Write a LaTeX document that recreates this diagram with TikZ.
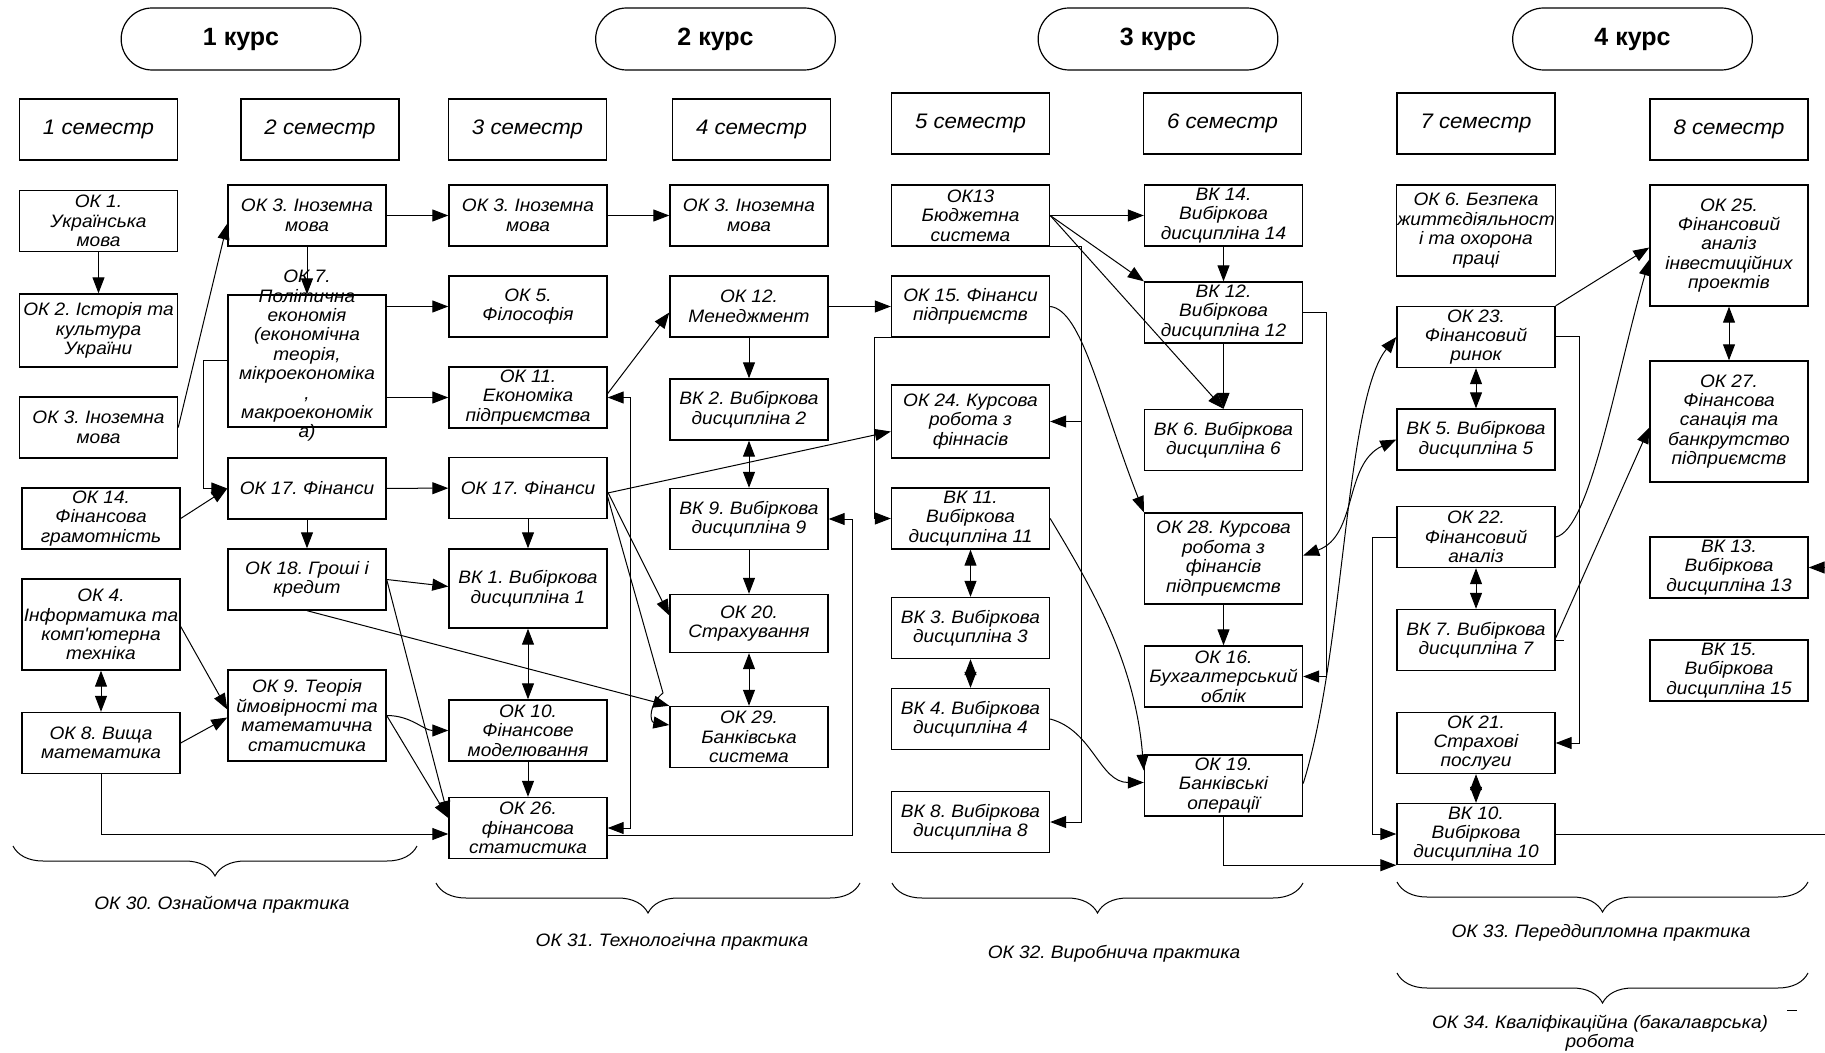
\documentclass[tikz,border=0pt]{standalone}
\usepackage{fontspec}
\setmainfont{Liberation Sans}
\newfontfamily\boxfam[FakeStretch=1.06]{Liberation Sans}
\usepackage{tikz}
\usetikzlibrary{shapes.misc}
\usetikzlibrary{arrows.meta}
\usetikzlibrary{calc,decorations.pathreplacing}
\frenchspacing
\newcommand{\boxfont}{\boxfam\itshape\fontsize{9}{9.7}\selectfont}
\newcommand{\semfont}{\boxfam\itshape\fontsize{10.5}{12}\selectfont}
\newcommand{\kursfont}{\bfseries\fontsize{12.5}{14}\selectfont}

\begin{document}
\begin{tikzpicture}[x=0.5pt,y=-0.5pt,
    box/.style={draw,line width=0.7pt,minimum width=79pt,minimum height=30.5pt,inner sep=0.5pt,align=center,font=\boxfont},
    sem/.style={draw,line width=0.7pt,minimum width=79pt,minimum height=30.5pt,font=\semfont},
    kurs/.style={draw,line width=0.6pt,rounded rectangle,minimum width=126.5pt,minimum height=31pt,font=\kursfont},
    lbl/.style={align=center,font=\boxfont},
    arr/.style={line width=0.5pt,-{Triangle[length=8pt,width=6pt]}},
    darr/.style={line width=0.5pt,{Triangle[length=8pt,width=6pt]}-{Triangle[length=8pt,width=6pt]}},
    brc/.style={line width=0.5pt,decorate,decoration={brace,amplitude=15pt}}]

    \useasboundingbox (0,0) rectangle (1825,1053);
    \fill[white] (0,0) rectangle (1825,1053);

    % courses and semesters
    \node[kurs] (kurs1) at (241,39) {1 курс};
    \node[kurs] (kurs2) at (715.5,39) {2 курс};
    \node[kurs] (kurs3) at (1158,39) {3 курс};
    \node[kurs] (kurs4) at (1632.5,39) {4 курс};
    \node[sem] (sem1) at (98.5,129.5) {1 семестр};
    \node[sem] (sem2) at (320,129.5) {2 семестр};
    \node[sem] (sem3) at (527.5,129.5) {3 семестр};
    \node[sem] (sem4) at (751.5,129.5) {4 семестр};
    \node[sem] (sem5) at (970.5,123.5) {5 семестр};
    \node[sem] (sem6) at (1222.5,123.5) {6 семестр};
    \node[sem] (sem7) at (1476,123.5) {7 семестр};
    \node[sem] (sem8) at (1729,129.5) {8 семестр};

    % 1 semester
    \node[box] (ok1) at (98.5,221) {ОК 1.\\ Українська\\ мова};
    \node[box,minimum height=36.5pt] (ok2) at (98.5,330.5) {ОК 2. Історія та\\ культура\\ України};
    \node[box] (ok3a) at (98.5,427.5) {ОК 3. Іноземна\\ мова};
    \node[box] (ok14) at (101,518.5) {ОК 14.\\ Фінансова\\ грамотність};
    \node[box,minimum height=45.5pt] (ok4) at (101,624.5) {ОК 4.\\ Інформатика та\\ комп'ютерна\\ техніка};
    \node[box] (ok8) at (101,743) {ОК 8. Вища\\ математика};

    % 2 semester
    \node[box] (ok3b) at (307,215.5) {ОК 3. Іноземна\\ мова};
    \node[box,minimum height=66pt] (ok7) at (307,361) {\smash{\begin{tabular}{@{}c@{}}ОК 7.\\ Політична\\ економія\\ (економічна\\ теорія,\\ мікроекономіка\\ ,\\ макроекономік\\ а)\end{tabular}}};
    \node[box] (ok17a) at (307,488.5) {ОК 17. Фінанси};
    \node[box] (ok18) at (307,579.5) {ОК 18. Гроші і\\ кредит};
    \node[box,minimum height=45.5pt] (ok9) at (307,715.5) {ОК 9. Теорія\\ ймовірності та\\ математична\\ статистика};

    % 3 semester
    \node[box] (ok3c) at (528,215.5) {ОК 3. Іноземна\\ мова};
    \node[box] (ok5) at (528,306.5) {ОК 5.\\ Філософія};
    \node[box] (ok11) at (528,397.5) {ОК 11.\\ Економіка\\ підприємства};
    \node[box] (ok17b) at (528,488) {ОК 17. Фінанси};
    \node[box,minimum height=39.5pt] (bk1) at (528,588.5) {ВК 1. Вибіркова\\ дисципліна 1};
    \node[box] (ok10) at (528,730.5) {ОК 10.\\ Фінансове\\ моделювання};
    \node[box] (ok26) at (528,828) {ОК 26.\\ фінансова\\ статистика};

    % 4 semester
    \node[box] (ok3d) at (749,215.5) {ОК 3. Іноземна\\ мова};
    \node[box] (ok12) at (749,306.5) {ОК 12.\\ Менеджмент};
    \node[box] (bk2) at (749,409.5) {ВК 2. Вибіркова\\ дисципліна 2};
    \node[box] (bk9) at (749,519) {ВК 9. Вибіркова\\ дисципліна 9};
    \node[box,minimum height=29pt] (ok20) at (749,623.5) {ОК 20.\\ Страхування};
    \node[box] (ok29) at (749,737) {ОК 29.\\ Банківська\\ система};

    % 5 semester
    \node[box] (ok13) at (970.5,215.5) {ОК13\\ Бюджетна\\ система};
    \node[box] (ok15) at (970.5,306.5) {ОК 15. Фінанси\\ підприємств};
    \node[box,minimum height=36.5pt] (ok24) at (970.5,421.5) {ОК 24. Курсова\\ робота з\\ фіннасів};
    \node[box] (bk11) at (970.5,518.5) {ВК 11.\\ Вибіркова\\ дисципліна 11};
    \node[box] (bk3) at (970.5,628) {ВК 3. Вибіркова\\ дисципліна 3};
    \node[box] (bk4) at (970.5,719) {ВК 4. Вибіркова\\ дисципліна 4};
    \node[box] (bk8) at (970.5,822) {ВК 8. Вибіркова\\ дисципліна 8};

    % 6 semester
    \node[box] (bk14) at (1223.5,215.5) {ВК 14.\\ Вибіркова\\ дисципліна 14};
    \node[box] (bk12) at (1223.5,312.5) {ВК 12.\\ Вибіркова\\ дисципліна 12};
    \node[box] (bk6) at (1223.5,440) {ВК 6. Вибіркова\\ дисципліна 6};
    \node[box,minimum height=45.5pt] (ok28) at (1223.5,558.5) {ОК 28. Курсова\\ робота з\\ фінансів\\ підприємств};
    \node[box] (ok16) at (1223.5,676.5) {ОК 16.\\ Бухгалтерський\\ облік};
    \node[box] (ok19) at (1223.5,785.5) {ОК 19.\\ Банківські\\ операції};

    % 7 semester
    \node[box,minimum height=45.5pt] (ok6) at (1476,230.5) {ОК 6. Безпека\\ життєдіяльност\\ і та охорона\\ праці};
    \node[box] (ok23) at (1476,337) {ОК 23.\\ Фінансовий\\ ринок};
    \node[box] (bk5) at (1476,439.5) {ВК 5. Вибіркова\\ дисципліна 5};
    \node[box] (ok22) at (1476,537) {ОК 22.\\ Фінансовий\\ аналіз};
    \node[box] (bk7) at (1476,640) {ВК 7. Вибіркова\\ дисципліна 7};
    \node[box] (ok21) at (1476,743) {ОК 21.\\ Страхові\\ послуги};
    \node[box] (bk10) at (1476,834) {ВК 10.\\ Вибіркова\\ дисципліна 10};

    % 8 semester
    \node[box,minimum height=60.5pt] (ok25) at (1729,245.5) {ОК 25.\\ Фінансовий\\ аналіз\\ інвестиційних\\ проектів};
    \node[box,minimum height=60.5pt] (ok27) at (1729,421.5) {ОК 27.\\ Фінансова\\ санація та\\ банкрутство\\ підприємств};
    \node[box] (bk13) at (1729,567.5) {ВК 13.\\ Вибіркова\\ дисципліна 13};
    \node[box] (bk15) at (1729,670.5) {ВК 15.\\ Вибіркова\\ дисципліна 15};

    % 1 course links
    \draw[arr] (ok1) -- (ok2);
    \draw[arr] (ok3a.east) -- ($(ok3b.west)+(0,8)$);
    \draw[arr] (ok7.west) -- ++(-24,0) |- (ok17a.west);
    \draw[arr] (ok14.east) -- (ok17a.west);
    \draw[darr] (ok4) -- (ok8);
    \draw[arr] ($(ok4.east)+(0,2)$) -- ($(ok9.west)+(0,-6)$);
    \draw[arr] (ok8.east) -- ($(ok9.west)+(0,2)$);
    \draw[arr] (ok8.south) |- ($(ok26.west)+(0,6)$);
    \draw[arr] (ok3b) -- (ok7);
    \draw[arr] (ok3b) -- (ok3c);
    \draw[arr] (ok7.east |- ok5.west) -- (ok5.west);
    \draw[arr] (ok7.east |- ok11.west) -- (ok11.west);
    \draw[arr] (ok17a) -- (ok17b);
    \draw[arr] (ok17a) -- (ok18);
    \draw[arr] (ok18.east) -- ($(bk1.west)+(0,-2)$);
    \draw[arr] (ok18.east) -- ($(ok26.west)+(0,-11)$);
    \draw[arr] (ok18.south) -- (ok29.north west);
    \draw[arr] (ok9.east) to[out=0,in=180] (ok10.west);
    \draw[arr] (ok9.east) -- ($(ok26.west)+(0,-10)$);

    % 2 course links
    \draw[arr] (ok3c) -- (ok3d);
    \draw[darr] (ok11.east) -- ++(23,0) |- (ok26.east);
    \draw[arr] ($(ok11.east)+(0,-4)$) -- ($(ok12.west)+(0,6)$);
    \draw[arr] (ok17b) -- (bk1);
    \draw[darr] (bk1) -- (ok10);
    \draw[arr] (ok10) -- (ok26);
    \draw[arr] ($(ok17b.east)+(0,4)$) -- ($(ok20.west)+(0,-8)$);
    \draw[arr] ($(ok17b.east)+(0,9)$) -- (663,693) .. controls (648,705) and (650,722) .. ($(ok29.west)+(0,-12)$);
    \draw[arr] ($(ok17b.east)+(0,5)$) -- ($(ok24.west)+(0,10)$);
    \draw[arr] ($(ok26.east)+(0,7)$) -- ++(245,0) |- (bk9.east);
    \draw[arr] (ok12) -- (bk2);
    \draw[darr] (bk2) -- (bk9);
    \draw[arr] (bk9) -- (ok20);
    \draw[darr] (ok20) -- (ok29);
    \draw[arr] (ok12) -- (ok15);

    % 3 course links
    \draw[arr] (ok15.south west) -- ++(-16,0) |- (bk11.west);
    \draw[arr] (ok13.south east) -- ++(31,0) coordinate (bus13) |- (ok24.east);
    \draw[arr] (bus13) |- (bk8.east);
    \draw[arr] (ok13.east) -- (bk14.west);
    \draw[arr] (ok13.east) -- (bk12.north west);
    \draw[arr] (ok13.east) -- (bk6.north);
    \draw[arr] (bk14) -- (bk12);
    \draw[arr] (bk12) -- (bk6);
    \draw[darr] (bk11) -- (bk3);
    \draw[darr] (bk3) -- (bk4);
    \draw[arr] (ok15.east) .. controls (1082,310) and (1100,400) .. (ok28.north west);
    \draw[arr] (bk11.east) .. controls (1090,585) and (1135,660) .. ($(ok19.west)+(0,-15)$);
    \draw[arr] (bk4.east) to[out=-15,in=180] ($(ok19.west)+(0,-3)$);
    \draw[arr] (ok28) -- (ok16);
    \draw[arr] (bk12.east) -- ++(23,0) |- (ok16.east);
    \draw[darr] ($(ok28.east)+(0,-3)$) to[out=20,in=205] (bk5.west);
    \draw[arr] ($(ok19.east)+(0,-2)$) .. controls (1345,650) and (1345,400) .. (ok23.west);

    % 4 course links
    \draw[darr] (ok23) -- (bk5);
    \draw[darr] (ok22) -- (bk7);
    \draw[darr] (ok21) -- (bk10);
    \draw[arr] (ok22.west) -- ++(-24,0) |- (bk10.west);
    \draw[arr] (ok19.south) |- (bk10.south west);
    \draw[arr] (ok23.east) -- ++(24,0) |- (ok21.east);
    \draw[arr] (ok23.north east) -- ($(ok25.west)+(0,2)$);
    \draw[arr] (ok22.east) .. controls (1590,530) and (1615,380) .. ($(ok25.west)+(0,14)$);
    \draw[arr] ($(bk7.east)+(0,-2)$) -- ($(ok27.west)+(0,6)$);
    \draw (bk7.east) -- ++(8,0);
    \draw[darr] (ok25) -- (ok27);
    \draw[arr] (bk10.east) -- ++(300,0) |- (bk13.east);

    % practices
    \draw[brc] (417,846) -- (13,846);
    \draw[brc] (860,883) -- (436,883);
    \draw[brc] (1303,883) -- (892,883);
    \draw[brc] (1808,882) -- (1397,882);
    \draw[brc] (1808,973) -- (1397,973);
    \node[lbl] (pr30) at (222,905) {ОК 30. Ознайомча практика};
    \node[lbl] (pr31) at (672,942) {ОК 31. Технологічна практика};
    \node[lbl] (pr32) at (1114,954) {ОК 32. Виробнича практика};
    \node[lbl] (pr33) at (1601,933) {ОК 33. Переддипломна практика};
    \node[lbl] (pr34) at (1600,1033) {ОК 34. Кваліфікаційна (бакалаврська)\\ робота};
    \draw[line width=0.5pt] (1787,1010) -- (1797,1010);

\end{tikzpicture}
\end{document}
